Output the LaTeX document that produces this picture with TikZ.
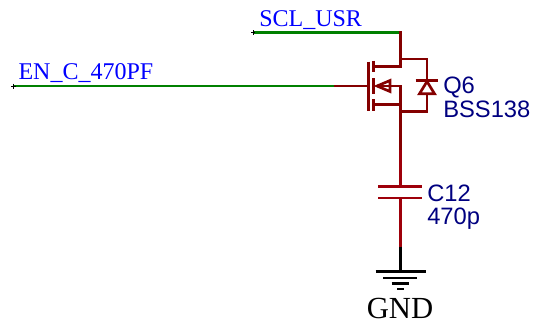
\documentclass[tikz,border=0pt]{standalone}
\usepackage{fontspec}
\setmainfont{Liberation Serif}
\setsansfont{Liberation Sans}
\tikzset{
    redwire/.style={draw=wirered,line width=2pt,line cap=butt,line join=miter},
    capwire/.style={draw=capred,line width=2pt},
    greenwire/.style={draw=wiregreen,line width=2pt},
    blackwire/.style={draw=black,line width=2pt},
    tickmark/.style={draw=black,line width=0.5pt},
    netlabel/.style={anchor=base west,inner sep=0pt,text=netblue,font=\rmfamily\fontsize{18}{20}\selectfont},
    partlabel/.style={anchor=base west,inner sep=0pt,text=partblue,font=\sffamily\fontsize{17.8}{20}\selectfont},
    gndlabel/.style={anchor=base,inner sep=0pt,text=black,font=\rmfamily\fontsize{23}{26}\selectfont}
}
\definecolor{wirered}{RGB}{132,0,0}
\definecolor{capred}{RGB}{158,0,10}
\definecolor{wiregreen}{RGB}{0,128,0}
\definecolor{netblue}{RGB}{0,0,255}
\definecolor{partblue}{RGB}{0,0,128}
\begin{document}
\begin{tikzpicture}[x=0.75pt,y=-0.75pt]
                \useasboundingbox (0,0) rectangle (534,325);

                \node[netlabel] (sclusr) at (259,26.7) {SCL\_USR}; \node[netlabel] (enc) at (18.3,79) {EN\_C\_470PF};
                \node[partlabel] (q6) at (443,93) {Q6}; \node[partlabel] (bss) at (443,117) {BSS138};
                \node[partlabel] (c12) at (427,201) {C12}; \node[partlabel] (val) at (427,224) {470p};
                \node[gndlabel] (gnd) at (400,318.5) {GND};

                \coordinate (sclend) at (253,32.5); \coordinate (drainup) at (400.3,32.5); \coordinate (drain) at (400.3,66.7);
                \coordinate (enend) at (13.3,86); \coordinate (gatein) at (334,86); \coordinate (gate) at (368.5,86);
                \coordinate (drainin) at (373.5,66.7); \coordinate (bodyin) at (376,86); \coordinate (body) at (400.3,86);
                \coordinate (sourcein) at (373.5,104.3); \coordinate (source) at (400.3,104.3);
                \coordinate (dtop) at (400.3,59); \coordinate (dtopr) at (427,59); \coordinate (dbot) at (400.3,111.7); \coordinate (dbotr) at (427,111.7);
                \coordinate (capa) at (400.3,186.7); \coordinate (capb) at (400.3,198); \coordinate (redend) at (400.3,246.7); \coordinate (gndtop) at (400.3,271.7);

                \draw[greenwire] (sclend) to (drainup); \draw[greenwire] (enend) to (gatein);
                \draw[tickmark] (251,32.5) to (255,32.5); \draw[tickmark] (sclend)+(0,-2.5) to +(0,2.5);
                \draw[tickmark] (11,86) to (15.5,86); \draw[tickmark] (enend)+(0,-2.5) to +(0,2.5);

                % transistor
                \draw[redwire] (400.3,31.2) to (drain); \draw[redwire] (401.6,66.7) to (drainin);
                \draw[redwire] (gatein) to (gate); \draw[redwire] (368.5,61.5) to (368.5,110.5);
                \draw[redwire] (373.5,60.5) to (373.5,71.7); \draw[redwire] (373.5,78) to (373.5,94); \draw[redwire] (373.5,99) to (373.5,110.5);
                \draw[redwire] (bodyin) to (401.6,86); \draw[redwire] (body) to (source); \draw[redwire] (401.6,104.3) to (sourcein);
                \draw[redwire] (377,86) -- (390,80.5) -- (390,91.5) -- cycle;

                % diode
                \draw[redwire] (dtop) to (428.3,59); \draw[redwire] (dtopr) to (427,80.3); \draw[redwire] (415.7,80.3) to (438.3,80.3);
                \draw[redwire] (427,81.5) -- (434.5,93.7) -- (419.5,93.7) -- cycle;
                \draw[redwire] (427,93.7) to (427,113); \draw[redwire] (dbotr) to (dbot);

                % capacitor
                \draw[redwire] (source) to (400.3,150); \draw[capwire] (400.3,150) to (capa); \draw[capwire] (378,186.7) to (422.3,186.7); \draw[capwire] (378,198) to (422.3,198);
                \draw[capwire] (capb) to (redend);

                % ground
                \draw[blackwire] (redend) to (gndtop);
                \draw[blackwire] (375.5,271.7) to (425.5,271.7); \draw[blackwire] (383,278) to (417,278);
                \draw[blackwire] (391.5,283.5) to (409,283.5); \draw[blackwire] (397,289) to (404,289);
            \end{tikzpicture}
\end{document}
